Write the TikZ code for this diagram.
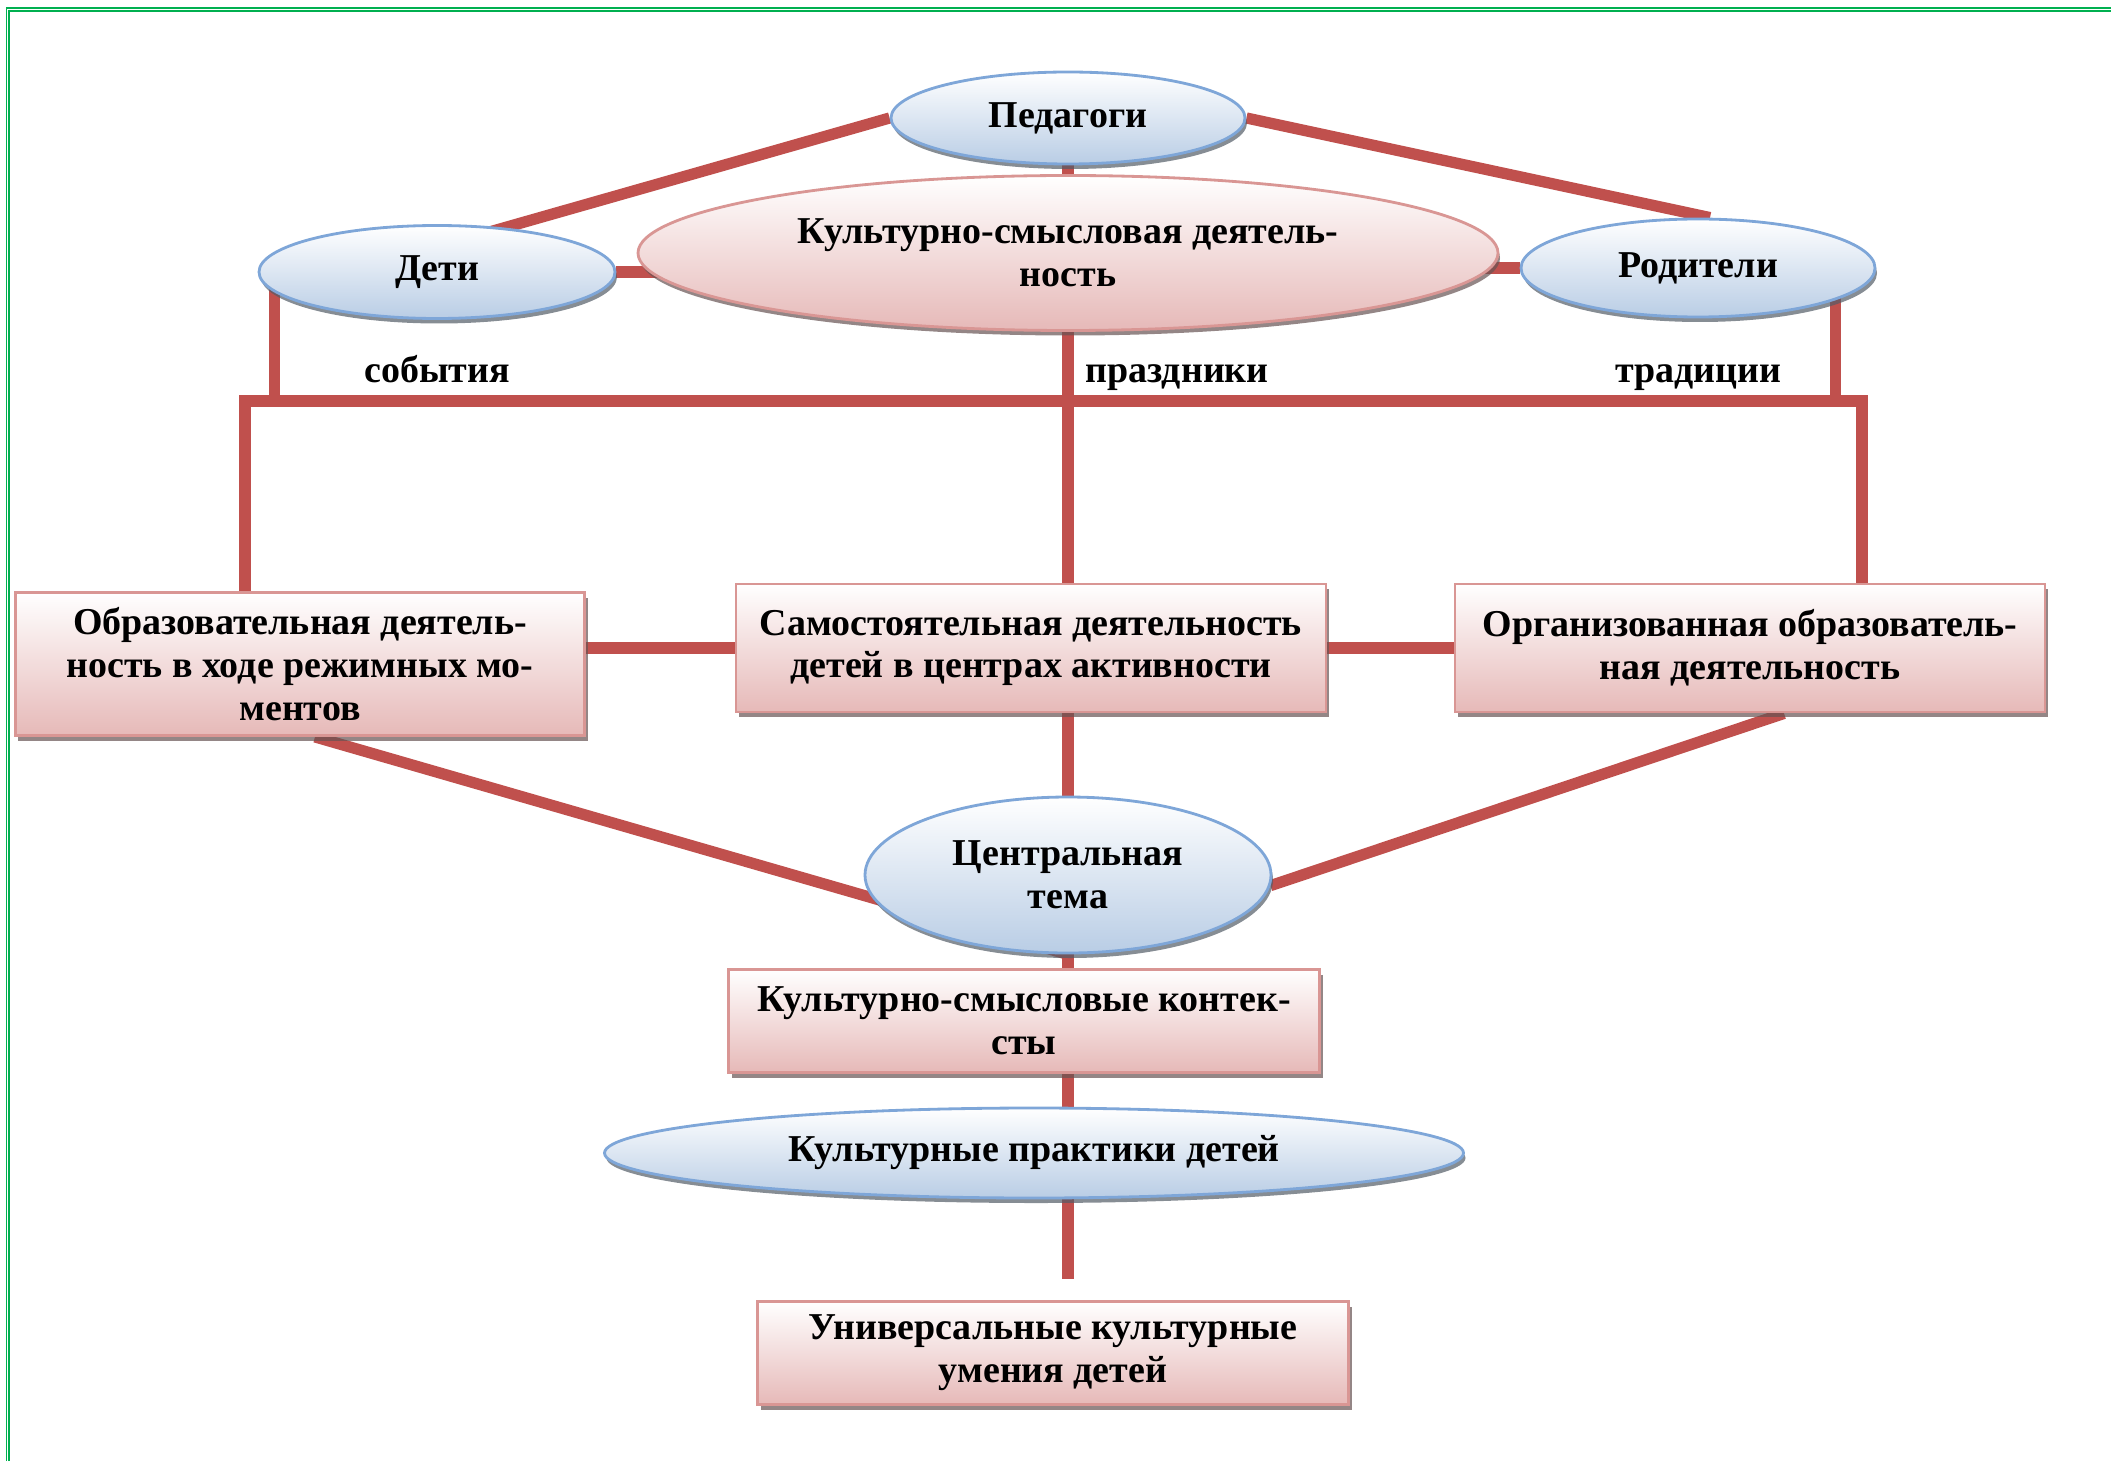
\documentclass[tikz,border=0pt]{standalone}
\usepackage{fontspec}
\setmainfont{Liberation Serif}
\usepackage{tikz}
\usetikzlibrary{arrows}
\usetikzlibrary{shapes.geometric, shadows}
\definecolor{linkred}{HTML}{C0504D}
\definecolor{bluerim}{HTML}{7EA6D8}
\definecolor{bluefill}{HTML}{B9CDE5}
\definecolor{pinkrim}{HTML}{D99694}
\definecolor{pinkfill}{HTML}{E6B9B8}
\definecolor{framegreen}{HTML}{00B050}
\pgfdeclarelayer{background}
\pgfsetlayers{background,main}
\tikzstyle{member} = [ellipse, inner sep=0pt, align=center, draw=bluerim, line width=0.8pt, top color=white, bottom color=bluefill, drop shadow={shadow xshift=0.02cm, shadow yshift=-0.05cm, fill=bluefill!45!black, opacity=0.7}, font=\bfseries\fontsize{10.8pt}{12.2pt}\selectfont]
\tikzstyle{pinkoval} = [ellipse, inner sep=0pt, align=center, draw=pinkrim, line width=0.8pt, top color=white, bottom color=pinkfill, drop shadow={shadow xshift=0.02cm, shadow yshift=-0.05cm, fill=pinkfill!45!black, opacity=0.7}, font=\bfseries\fontsize{10.8pt}{12.2pt}\selectfont]
\tikzstyle{activity} = [rectangle, inner sep=0pt, align=center, draw=pinkrim, line width=0.8pt, top color=white, bottom color=pinkfill, drop shadow={shadow xshift=0.03cm, shadow yshift=-0.05cm, fill=pinkfill!45!black, opacity=0.7}, font=\bfseries\fontsize{10.8pt}{12.2pt}\selectfont]
\tikzstyle{word} = [font=\bfseries\fontsize{10.8pt}{12.2pt}\selectfont]
\tikzstyle{link} = [line width=3.2pt, draw=linkred]

\begin{document}
\begin{tikzpicture}[node distance=2cm]
\useasboundingbox (0,0) rectangle (21.11,-14.61);
\node (ped) [member, minimum width=3.54cm, minimum height=0.92cm] at (10.68,-1.18) {Педагоги};
\node (kult) [pinkoval, minimum width=8.6cm, minimum height=1.55cm, below of=ped, yshift=0.65cm] {Культурно-смысловая деятель-\\ность};
\node (deti) [member, minimum width=3.56cm, minimum height=0.93cm, left of=kult, xshift=-4.31cm, yshift=-0.19cm] {Дети};
\node (rod) [member, minimum width=3.54cm, minimum height=0.98cm, right of=kult, xshift=4.3cm, yshift=-0.15cm] {Родители};
\node (ev) [word, below of=deti, yshift=1.03cm] {события};
\node (hol) [word, below of=kult, xshift=1.09cm, yshift=0.75cm] {праздники};
\node (tra) [word, below of=rod, yshift=0.9cm] {традиции};
\node (mbox) [activity, minimum width=5.9cm, minimum height=1.28cm, below of=kult, xshift=-0.37cm, yshift=-1.95cm] {Самостоятельная деятельность\\детей в центрах активности};
\node (lbox) [activity, minimum width=5.69cm, minimum height=1.43cm, left of=mbox, xshift=-5.31cm, yshift=-0.16cm] {Образовательная деятель-\\ность в ходе режимных мо-\\ментов};
\node (rbox) [activity, minimum width=5.9cm, minimum height=1.28cm, right of=mbox, xshift=5.19cm] {Организованная образователь-\\ная деятельность};
\node (cent) [member, minimum width=4.06cm, minimum height=1.56cm, below of=mbox, xshift=0.37cm, yshift=-0.27cm] {Центральная\\тема};
\node (ctx) [activity, minimum width=5.91cm, minimum height=1.03cm, below of=cent, xshift=-0.44cm, yshift=0.54cm] {Культурно-смысловые контек-\\сты};
\node (prak) [member, minimum width=8.59cm, minimum height=0.9cm, below of=ctx, xshift=0.1cm, yshift=0.68cm] {Культурные практики детей};
\node (umen) [activity, minimum width=5.91cm, minimum height=1.03cm, below of=prak, xshift=0.19cm] {Универсальные культурные\\умения детей};
\coordinate (barL) at (2.45,-4.01);
\coordinate (barR) at (18.62,-4.01);
\coordinate (tail) at (10.68,-12.79);

\begin{pgfonlayer}{background}
\draw [framegreen, line width=0.45pt] (0.067,-14.61) -- (0.067,-0.082) -- (21.11,-0.082);
\draw [framegreen, line width=0.7pt] (0.092,-14.61) -- (0.092,-0.11) -- (21.11,-0.11);
\draw [link] (ped.west) -- ([xshift=0.45cm, yshift=-0.1cm]deti.north);
\draw [link] (ped.east) -- ([xshift=0.12cm]rod.north);
\draw [link] (ped) -- (kult);
\draw [link] (deti) -- (deti -| kult);
\draw [link] (rod) -- (rod -| kult);
\draw [link] ([xshift=0.17cm]deti.west) -- ([xshift=0.17cm]deti.west |- barL);
\draw [link] ([xshift=-0.41cm]rod.east) -- ([xshift=-0.41cm]rod.east |- barR);
\draw [link] (barL |- lbox.north) -- (barL) -- (barR) -- (barR |- rbox.north);
\draw [link] (kult) -- (kult |- mbox.north);
\draw [link] (mbox) -- (mbox -| lbox);
\draw [link] (mbox) -- (rbox);
\draw [link] (cent |- mbox.south) -- (cent);
\draw [link] ([xshift=0.15cm]lbox.south) -- (cent.south);
\draw [link] ([xshift=0.34cm]rbox.south) -- (cent.-3);
\draw [link] (cent) -- (cent |- ctx.north);
\draw [link] (cent |- ctx.south) -- (cent |- prak.north);
\draw [link] (prak -| tail) -- (tail);
\end{pgfonlayer}
\end{tikzpicture}
\end{document}
